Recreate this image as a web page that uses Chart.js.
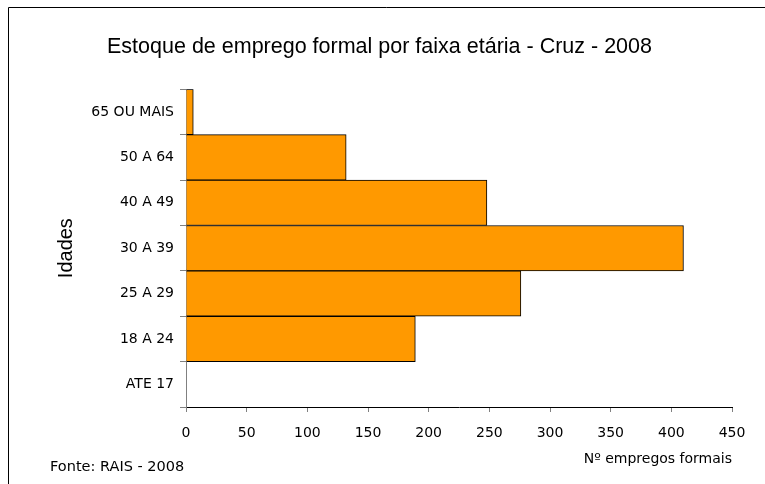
<!DOCTYPE html>
<html>
<head>
<meta charset="utf-8">
<script src="https://cdn.jsdelivr.net/npm/chart.js@4/dist/chart.umd.min.js"></script>
<style>
    html, body { margin: 0; padding: 0; background: #fff; }
</style>
</head>
<body>
<canvas id="chart" width="765" height="484"></canvas>
<script>
// faixas etarias, de cima para baixo
const faixas = ["65 OU MAIS", "50 A 64", "40 A 49", "30 A 39", "25 A 29", "18 A 24", "ATE 17"];
const empregos = [6, 132, 248, 410, 276, 189, 0];
const xTicks = [0, 50, 100, 150, 200, 250, 300, 350, 400, 450];

const titulo = "Estoque de emprego formal por faixa etária - Cruz - 2008";
const fonte = "Fonte: RAIS - 2008";

const moldura = {
    id: "moldura",
    afterDraw(chart) {
        const ctx = chart.ctx;
        ctx.save();
        ctx.strokeStyle = "#000";
        ctx.lineWidth = 1;
        ctx.beginPath();
        ctx.moveTo(8.5, 484);
        ctx.lineTo(8.5, 7.5);
        ctx.lineTo(765, 7.5);
        ctx.stroke();
        ctx.fillStyle = "#000";
        ctx.font = "14.5px 'DejaVu Sans'";
        ctx.textBaseline = "middle";
        ctx.fillText(fonte, 50, 467);
        ctx.restore();
    }
};

window.addEventListener("load", () => {
    const ctx = document.querySelector("#chart");
    new Chart(ctx, {
        type: "bar",
        data: {
            labels: faixas,
            datasets: [{
                label: "Nº empregos formais",
                data: empregos,
                backgroundColor: "#FF9900",
                borderColor: "#000",
                borderWidth: 1,
                categoryPercentage: 1,
                barPercentage: 1
            }]
        },
        options: {
            indexAxis: "y",
            responsive: false,
            animation: false,
            layout: { padding: { top: 0, left: 27, right: 33, bottom: 0 } },
            plugins: {
                legend: { display: false },
                tooltip: { enabled: false },
                title: {
                    display: true,
                    text: titulo,
                    color: "#000",
                    font: { family: "'Liberation Sans'", size: 21.5, weight: "normal" },
                    padding: { top: 34, bottom: 29.5 }
                }
            },
            scales: {
                x: {
                    min: 0,
                    max: 450,
                    afterBuildTicks: axis => {
                        axis.ticks = xTicks.map(v => ({ value: v }));
                    },
                    afterFit: axis => { axis.height = 77; },
                    border: { color: "#000", width: 1 },
                    grid: { drawOnChartArea: false, tickLength: 5, color: "#808080" },
                    ticks: {
                        color: "#000",
                        padding: 13,
                        font: { family: "'DejaVu Sans'", size: 14 }
                    },
                    title: {
                        display: true,
                        text: "Nº empregos formais",
                        align: "end",
                        color: "#000",
                        padding: { top: 0, bottom: 16 },
                        font: { family: "'DejaVu Sans'", size: 14 }
                    }
                },
                y: {
                    afterFit: axis => { axis.width = 159; },
                    border: { color: "#808080", width: 1 },
                    grid: { drawOnChartArea: false, tickLength: 6, color: "#808080" },
                    ticks: {
                        color: "#000",
                        padding: 6,
                        font: { family: "'DejaVu Sans'", size: 14 }
                    },
                    title: {
                        display: true,
                        text: "Idades",
                        color: "#000",
                        padding: { top: 27, bottom: 0 },
                        font: { family: "'Liberation Sans'", size: 20 }
                    }
                }
            }
        },
        plugins: [moldura]
    });
});
</script>
</body>
</html>
